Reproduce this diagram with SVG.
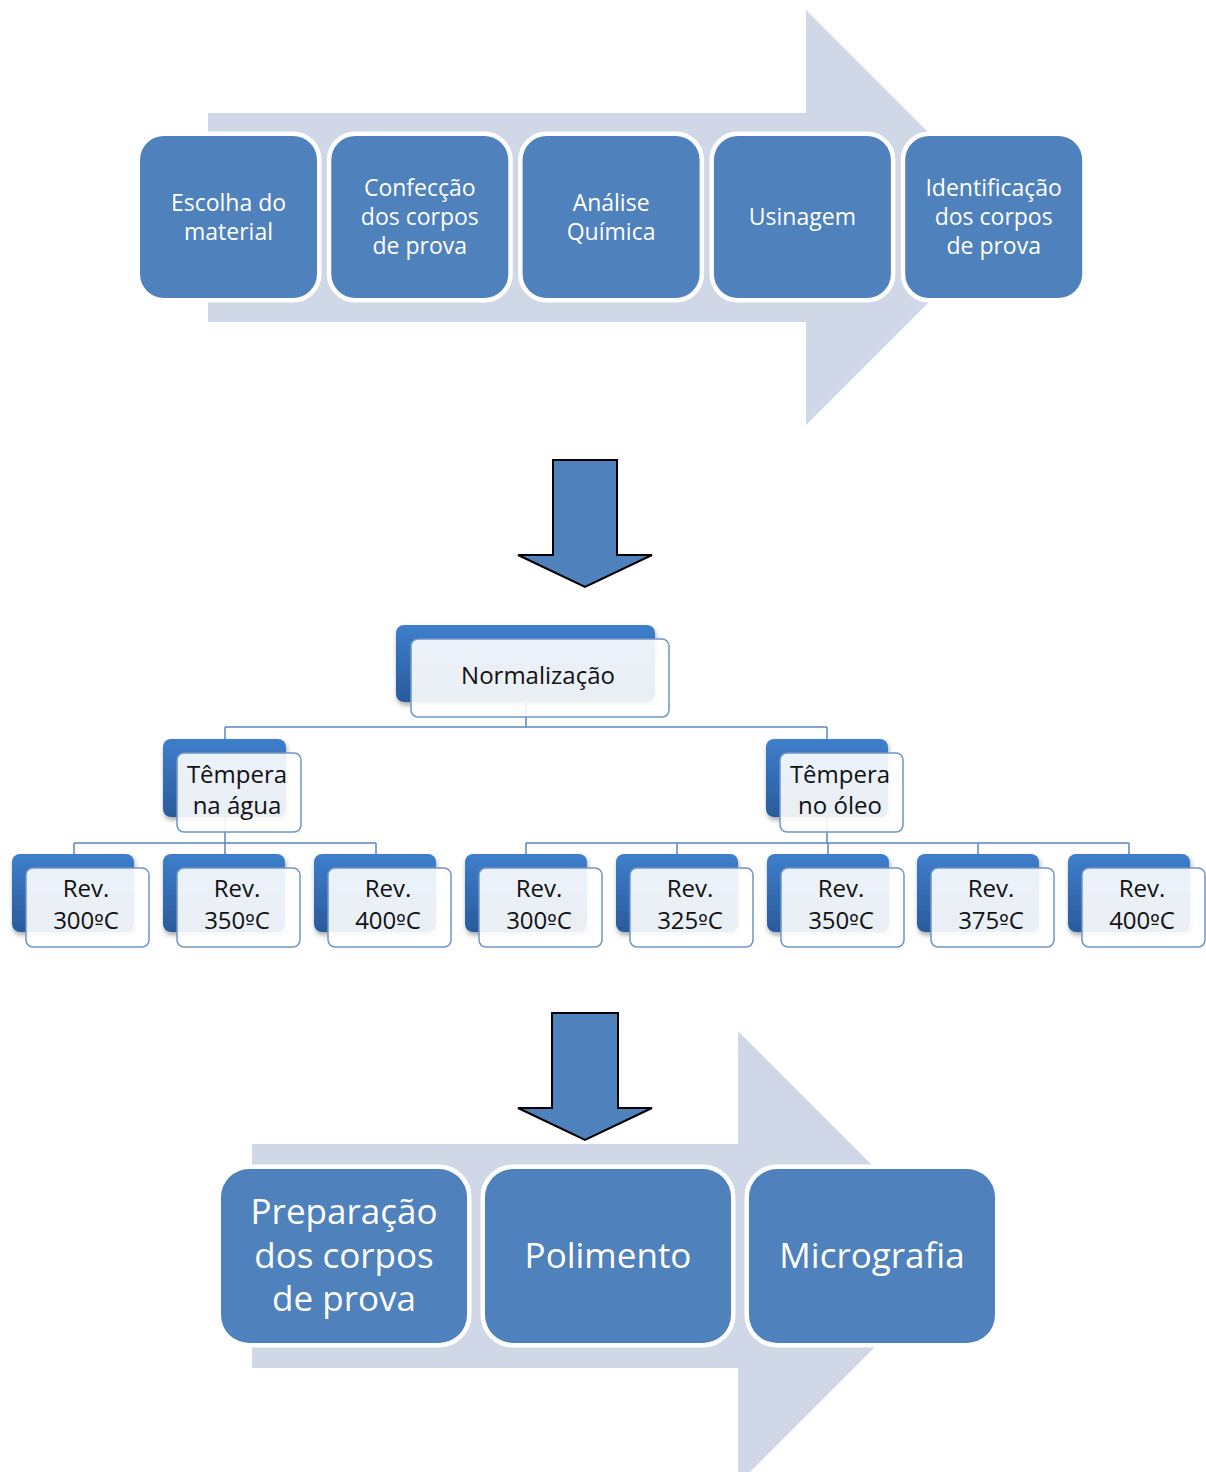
<svg xmlns="http://www.w3.org/2000/svg" width="1206" height="1472" viewBox="0 0 1206 1472">
<defs>
<linearGradient id="backGrad" x1="0" y1="0" x2="0" y2="1">
<stop offset="0" stop-color="#3E7ECB"/>
<stop offset="1" stop-color="#2A5B9B"/>
</linearGradient>
<filter id="shadow" x="-20%" y="-20%" width="140%" height="150%">
<feDropShadow dx="1" dy="3" stdDeviation="2.5" flood-color="#000" flood-opacity="0.35"/>
</filter>
<style>
.chev{fill:#D0D8E8;}
.pbox{fill:#4F81BD;stroke:#FFFFFF;stroke-width:9;paint-order:stroke;}
.ptxt{fill:#FFFFFF;font-family:"Open Sans","Noto Sans",sans-serif;font-size:23px;text-anchor:middle;}
.btxt{fill:#FFFFFF;font-family:"Open Sans","Noto Sans",sans-serif;font-size:35px;text-anchor:middle;}
.darrow{fill:#4F81BD;stroke:#000000;stroke-width:2;stroke-linejoin:miter;}
.back{fill:url(#backGrad);filter:url(#shadow);}
.front{fill:#FFFFFF;fill-opacity:0.9;stroke:#6F95C8;stroke-width:1.5;}
.ttxt{fill:#111111;font-family:"Open Sans","Noto Sans",sans-serif;font-size:24px;text-anchor:middle;}
.ord{font-family:"DejaVu Sans","Liberation Sans",sans-serif;font-size:20px;}
.conn{fill:none;stroke:#5B86C0;stroke-width:1.5;}
</style>
</defs>

<g id="process-top">
<polygon class="chev" points="208,113 806,113 806,10 1013.5,217.5 806,425 806,322 208,322"/>
<g id="n-escolha"><rect class="pbox" x="140" y="136" width="177" height="162" rx="24"/>
<text class="ptxt" x="228.5" y="211">Escolha do</text><text class="ptxt" x="228.5" y="240">material</text></g>
<g id="n-confeccao"><rect class="pbox" x="331.3" y="136" width="177" height="162" rx="24"/>
<text class="ptxt" x="419.8" y="196">Confecção</text><text class="ptxt" x="419.8" y="225">dos corpos</text><text class="ptxt" x="419.8" y="254">de prova</text></g>
<g id="n-analise"><rect class="pbox" x="522.6" y="136" width="177" height="162" rx="24"/>
<text class="ptxt" x="611.1" y="211">Análise</text><text class="ptxt" x="611.1" y="240">Química</text></g>
<g id="n-usinagem"><rect class="pbox" x="713.9" y="136" width="177" height="162" rx="24"/>
<text class="ptxt" x="802.4" y="225">Usinagem</text></g>
<g id="n-identificacao"><rect class="pbox" x="905.2" y="136" width="177" height="162" rx="24"/>
<text class="ptxt" x="993.7" y="196">Identificação</text><text class="ptxt" x="993.7" y="225">dos corpos</text><text class="ptxt" x="993.7" y="254">de prova</text></g>
</g>

<g id="arrow-1"><polygon class="darrow" points="553,460 617,460 617,555 652,555 585,587 518,555 553,555"/></g>

<g id="connectors">
<path class="conn" d="M526 702 V727 M225 727 H827 M225 727 V739 M827 727 V739"/>
<path class="conn" d="M225 817 V843 M74 843 H376 M74 843 V854 M225 843 V854 M376 843 V854"/>
<path class="conn" d="M827 817 V843 M526 843 H1129 M526 843 V854 M677 843 V854 M828 843 V854 M978 843 V854 M1129 843 V854"/>
</g>

<g id="n-normalizacao"><rect class="back" x="396" y="625" width="259" height="77" rx="8"/><rect class="front" x="411" y="639" width="258" height="78" rx="7"/>
<text class="ttxt" x="538" y="684">Normalização</text></g>
<g id="n-tempera-agua"><rect class="back" x="163" y="739" width="123" height="78" rx="8"/><rect class="front" x="177" y="753" width="124" height="79" rx="7"/>
<text class="ttxt" x="237" y="783">Têmpera</text><text class="ttxt" x="237" y="814">na água</text></g>
<g id="n-tempera-oleo"><rect class="back" x="766" y="739" width="122" height="78" rx="8"/><rect class="front" x="780" y="753" width="123" height="79" rx="7"/>
<text class="ttxt" x="840" y="783">Têmpera</text><text class="ttxt" x="840" y="814">no óleo</text></g>

<g id="n-a300"><rect class="back" x="12" y="854" width="122" height="78" rx="8"/><rect class="front" x="26" y="868" width="123" height="79" rx="7"/>
<text class="ttxt" x="86" y="897">Rev.</text><text class="ttxt" x="86" y="929">300<tspan class="ord">º</tspan>C</text></g>
<g id="n-a350"><rect class="back" x="163" y="854" width="122" height="78" rx="8"/><rect class="front" x="177" y="868" width="123" height="79" rx="7"/>
<text class="ttxt" x="237" y="897">Rev.</text><text class="ttxt" x="237" y="929">350<tspan class="ord">º</tspan>C</text></g>
<g id="n-a400"><rect class="back" x="314" y="854" width="122" height="78" rx="8"/><rect class="front" x="328" y="868" width="123" height="79" rx="7"/>
<text class="ttxt" x="388" y="897">Rev.</text><text class="ttxt" x="388" y="929">400<tspan class="ord">º</tspan>C</text></g>
<g id="n-o300"><rect class="back" x="465" y="854" width="122" height="78" rx="8"/><rect class="front" x="479" y="868" width="123" height="79" rx="7"/>
<text class="ttxt" x="539" y="897">Rev.</text><text class="ttxt" x="539" y="929">300<tspan class="ord">º</tspan>C</text></g>
<g id="n-o325"><rect class="back" x="616" y="854" width="122" height="78" rx="8"/><rect class="front" x="630" y="868" width="123" height="79" rx="7"/>
<text class="ttxt" x="690" y="897">Rev.</text><text class="ttxt" x="690" y="929">325<tspan class="ord">º</tspan>C</text></g>
<g id="n-o350"><rect class="back" x="767" y="854" width="122" height="78" rx="8"/><rect class="front" x="781" y="868" width="123" height="79" rx="7"/>
<text class="ttxt" x="841" y="897">Rev.</text><text class="ttxt" x="841" y="929">350<tspan class="ord">º</tspan>C</text></g>
<g id="n-o375"><rect class="back" x="917" y="854" width="122" height="78" rx="8"/><rect class="front" x="931" y="868" width="123" height="79" rx="7"/>
<text class="ttxt" x="991" y="897">Rev.</text><text class="ttxt" x="991" y="929">375<tspan class="ord">º</tspan>C</text></g>
<g id="n-o400"><rect class="back" x="1068" y="854" width="122" height="78" rx="8"/><rect class="front" x="1082" y="868" width="123" height="79" rx="7"/>
<text class="ttxt" x="1142" y="897">Rev.</text><text class="ttxt" x="1142" y="929">400<tspan class="ord">º</tspan>C</text></g>

<g id="arrow-2"><polygon class="darrow" points="552,1013 618,1013 618,1108 652,1108 585,1140 518,1108 552,1108"/></g>

<g id="process-bottom">
<polygon class="chev" points="252,1144 738,1144 738,1031 964.5,1257.5 738,1484 738,1368 252,1368"/>
<g id="n-preparacao"><rect class="pbox" x="221" y="1169" width="246" height="174" rx="28"/>
<text class="btxt" x="344" y="1224">Preparação</text><text class="btxt" x="344" y="1268">dos corpos</text><text class="btxt" x="344" y="1311">de prova</text></g>
<g id="n-polimento"><rect class="pbox" x="485" y="1169" width="246" height="174" rx="28"/>
<text class="btxt" x="608" y="1268">Polimento</text></g>
<g id="n-micrografia"><rect class="pbox" x="749" y="1169" width="246" height="174" rx="28"/>
<text class="btxt" x="872" y="1268">Micrografia</text></g>
</g>
</svg>
